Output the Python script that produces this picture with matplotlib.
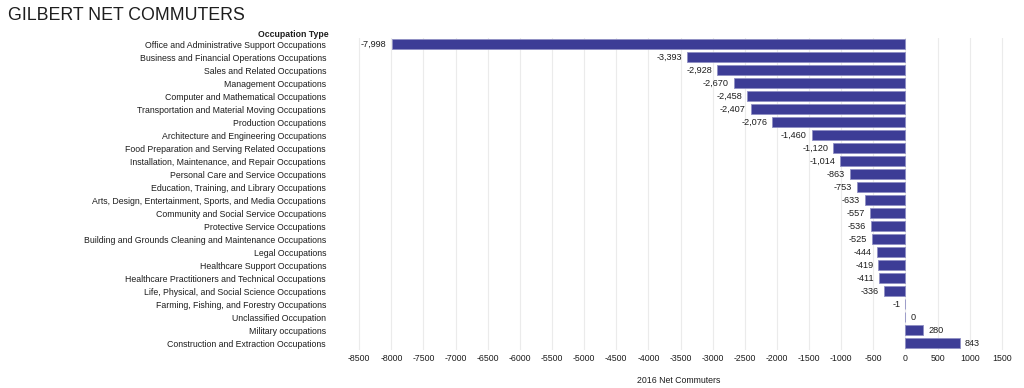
import matplotlib
matplotlib.use("Agg")
import matplotlib.pyplot as plt

categories = [
    "Office and Administrative Support Occupations",
    "Business and Financial Operations Occupations",
    "Sales and Related Occupations",
    "Management Occupations",
    "Computer and Mathematical Occupations",
    "Transportation and Material Moving Occupations",
    "Production Occupations",
    "Architecture and Engineering Occupations",
    "Food Preparation and Serving Related Occupations",
    "Installation, Maintenance, and Repair Occupations",
    "Personal Care and Service Occupations",
    "Education, Training, and Library Occupations",
    "Arts, Design, Entertainment, Sports, and Media Occupations",
    "Community and Social Service Occupations",
    "Protective Service Occupations",
    "Building and Grounds Cleaning and Maintenance Occupations",
    "Legal Occupations",
    "Healthcare Support Occupations",
    "Healthcare Practitioners and Technical Occupations",
    "Life, Physical, and Social Science Occupations",
    "Farming, Fishing, and Forestry Occupations",
    "Unclassified Occupation",
    "Military occupations",
    "Construction and Extraction Occupations",
]
values = [-7998, -3393, -2928, -2670, -2458, -2407, -2076, -1460, -1120, -1014,
          -863, -753, -633, -557, -536, -525, -444, -419, -411, -336, -1, 0, 280, 843]
xticks = list(range(-8500, 1501, 500))

plt.rcParams['font.family'] = ['Liberation Sans', 'DejaVu Sans']
fig = plt.figure(figsize=(10.24, 3.88), dpi=100)
ax = fig.add_axes([0.332, 0.099, 0.662, 0.804])

color = "#3d3d96"
y = list(range(len(categories)))
ax.barh(y, values, height=0.78, color=color, edgecolor="#8f8fc4", linewidth=0.6, zorder=3)
ax.set_ylim(len(categories) - 0.5, -0.5)
ax.set_xlim(-8800, 1750)
ax.set_yticks(y)
ax.set_yticklabels(categories, fontsize=6.3, color="#1e1e1e")
ax.set_xticks(xticks)
ax.set_xticklabels([str(t) for t in xticks], fontsize=6.3, color="#1e1e1e")
ax.tick_params(axis='x', length=0, pad=3.5)
ax.tick_params(axis='y', length=0, pad=10)
for s in ax.spines.values():
    s.set_visible(False)
ax.grid(axis='x', color="#ebebeb", linewidth=0.8, zorder=0)
ax.set_axisbelow(True)

for yi, v in zip(y, values):
    label = f"{v:,}"
    if v < 0:
        ax.text(v - 75, yi, label, ha='right', va='center', fontsize=6.6, color="#1e1e1e")
    else:
        ax.text(v + 75, yi, label, ha='left', va='center', fontsize=6.6, color="#1e1e1e")

ax.set_xlabel("2016 Net Commuters", fontsize=6.3, color="#1e1e1e", labelpad=9)
fig.text(0.3205, 0.912, "Occupation Type", ha='right', va='center', fontsize=6.3,
         fontweight='bold', color="#1e1e1e")
fig.text(0.008, 0.96, "GILBERT NET COMMUTERS", ha='left', va='center', fontsize=12.8,
         color="#1e1e1e")

fig.savefig("out.png", dpi=100)
